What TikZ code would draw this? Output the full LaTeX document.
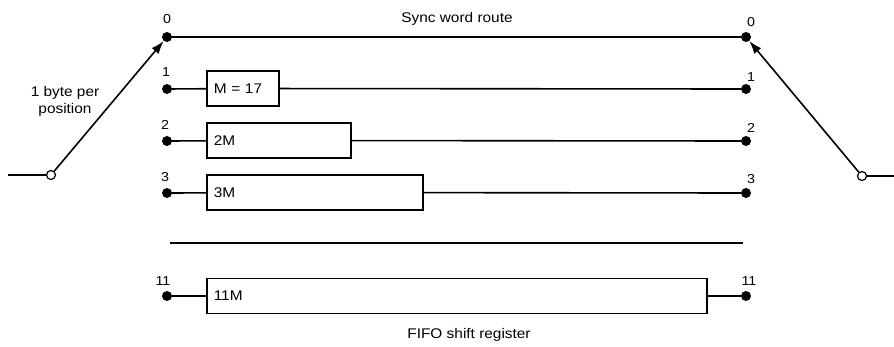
\documentclass[tikz,border=0pt]{standalone}
\usepackage{fontspec}
\setmainfont[FakeStretch=1.1]{Liberation Sans}
\usetikzlibrary{arrows.meta}
\tikzset{
  dot/.style={circle,fill=black,inner sep=0pt,minimum size=10pt},
  odot/.style={circle,draw=black,fill=white,line width=1.2pt,inner sep=0pt,minimum size=9pt},
  reg/.style={draw=black,line width=1.6pt,rectangle,anchor=west,inner xsep=7pt,inner ysep=0pt,minimum height=35pt,align=left},
  wire/.style={draw=black,line width=1.6pt},
  sw/.style={draw=black,line width=1.6pt,-{Latex[length=13pt,width=9pt]}},
  num/.style={font=\fontsize{13}{15}\selectfont,inner sep=0pt},
  lbl/.style={font=\fontsize{14}{17}\selectfont,inner sep=0pt}
}
\begin{document}
\begin{tikzpicture}[x=1pt,y=-1pt]
\useasboundingbox (0,0) rectangle (894,346);
% left dots
\node[dot] (l0) at (167,37) {};
\node[dot] (l1) at (167,89) {};
\node[dot] (l2) at (167,141) {};
\node[dot] (l3) at (167,193) {};
\node[dot] (l11) at (167,296) {};
% right dots
\node[dot] (r0) at (746,37) {};
\node[dot] (r1) at (746,89) {};
\node[dot] (r2) at (746,141) {};
\node[dot] (r3) at (746,193) {};
\node[dot] (r11) at (746,296) {};
% numbers
\node[num] at (167,19) {0};
\node[num] at (166,72) {1};
\node[num] at (165,125) {2};
\node[num] at (165,177) {3};
\node[num] at (163,281) {11};
\node[num] at (751,22) {0};
\node[num] at (751,77) {1};
\node[num] at (751,128) {2};
\node[num] at (751,179) {3};
\node[num] at (749,281) {11};
% registers
\node[reg,lbl,inner xsep=7pt,text width=58pt] (b1) at (206,88.5) {M = 17};
\node[reg,lbl,inner xsep=7pt,text width=130pt] (b2) at (206,140.5) {2M};
\node[reg,lbl,inner xsep=7pt,text width=202pt] (b3) at (206,192.5) {3M};
\node[reg,lbl,inner xsep=7pt,text width=486pt] (b11) at (206,296) {11M};
% connectors
\draw[wire] (l0) -- (r0);
\draw[wire] (l1) -- (b1); \draw[wire] (b1) -- (r1);
\draw[wire] (l2) -- (b2); \draw[wire] (b2) -- (r2);
\draw[wire] (l3) -- (b3); \draw[wire] (b3) -- (r3);
\draw[wire] (l11) -- (b11); \draw[wire] (b11) -- (r11);
% separator
\coordinate (sepA) at (170,243);
\coordinate (sepB) at (743,243);
\draw[wire] (sepA) -- (sepB);
% switches
\node[odot] (cl) at (51,175) {};
\node[odot] (cr) at (862,176) {};
\coordinate (inL) at (8,175);
\coordinate (outR) at (894,176);
\draw[wire] (inL) -- (cl);
\draw[wire] (cr) -- (outR);
\draw[sw] (cl) -- (l0);
\draw[sw] (cr) -- (r0);
% texts
\node[lbl,anchor=base] at (457,22) {Sync word route};
\node[lbl,anchor=base] at (469,338) {FIFO shift register};
\node[lbl,align=center] at (65,101) {1 byte per\\position};
\end{tikzpicture}
\end{document}
